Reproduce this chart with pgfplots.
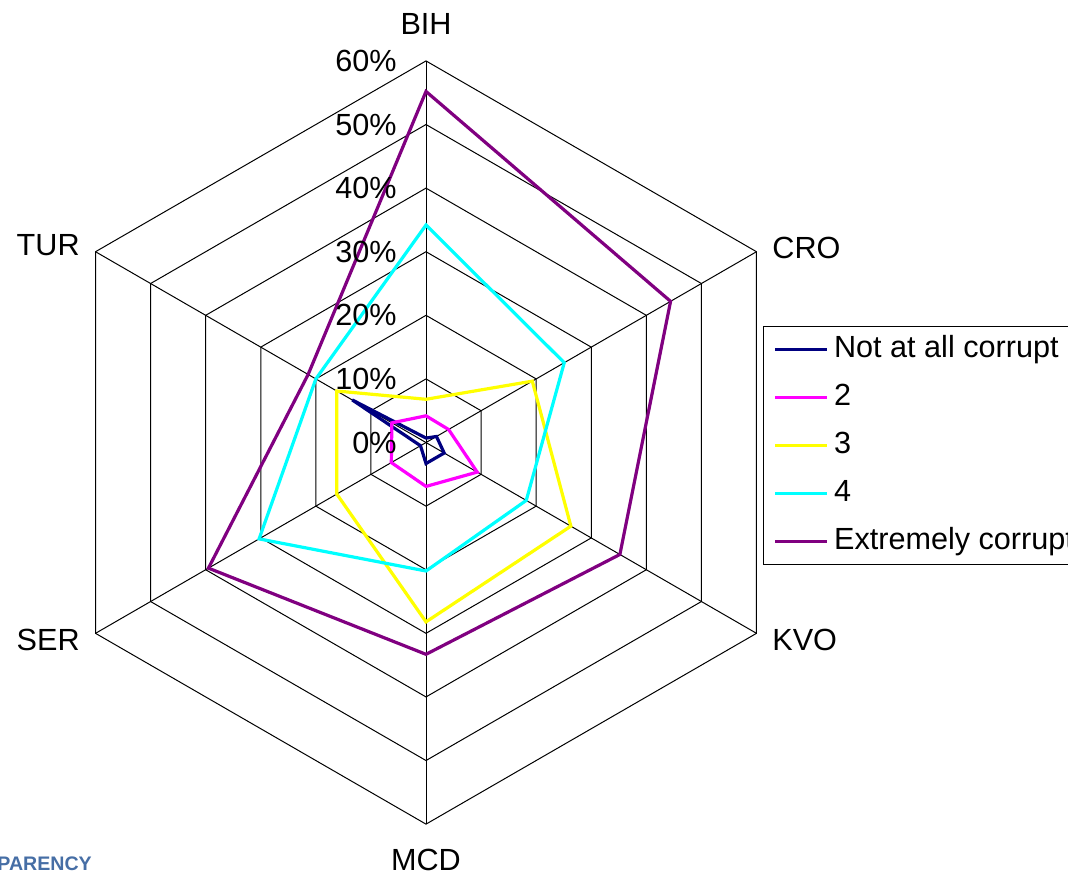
\documentclass[border=0pt]{standalone}
\usepackage{pgfplots}
\pgfplotsset{compat=1.18}
\usepackage{fontspec}
\setmainfont{Liberation Sans}
\definecolor{cNavy}{RGB}{0,0,128}
\definecolor{cMag}{RGB}{255,0,255}
\definecolor{cYel}{RGB}{255,255,0}
\definecolor{cCya}{RGB}{0,255,255}
\definecolor{cPur}{RGB}{128,0,128}
\definecolor{cLogo}{RGB}{70,110,165}
\newcommand{\lf}{\fontsize{15.3}{18}\selectfont}
\begin{document}
\begin{tikzpicture}
\begin{axis}[
  x=3.18pt, y=3.18pt,
  xmin=-67, xmax=101, ymin=-68.5, ymax=69.6,
  hide axis, clip=false,
  legend style={at={(axis cs:53.03,18.3)}, anchor=north west, draw=black, line width=0.5pt,
    font=\lf, inner xsep=5pt, inner ysep=4.5pt, column sep=2.75pt, row sep=10pt,
    nodes={inner sep=0pt, text height=11pt, text depth=3pt}},
  legend cell align=left,
  legend image code/.code={\draw[#1] (0pt,0pt) -- (25.8pt,0pt);},
]
% grid hexagons
\addplot[black, line width=0.5pt, data cs=polar, forget plot] coordinates {(90,10)(30,10)(-30,10)(-90,10)(-150,10)(150,10)} -- cycle;
\addplot[black, line width=0.5pt, data cs=polar, forget plot] coordinates {(90,20)(30,20)(-30,20)(-90,20)(-150,20)(150,20)} -- cycle;
\addplot[black, line width=0.5pt, data cs=polar, forget plot] coordinates {(90,30)(30,30)(-30,30)(-90,30)(-150,30)(150,30)} -- cycle;
\addplot[black, line width=0.5pt, data cs=polar, forget plot] coordinates {(90,40)(30,40)(-30,40)(-90,40)(-150,40)(150,40)} -- cycle;
\addplot[black, line width=0.5pt, data cs=polar, forget plot] coordinates {(90,50)(30,50)(-30,50)(-90,50)(-150,50)(150,50)} -- cycle;
\addplot[black, line width=0.5pt, data cs=polar, forget plot] coordinates {(90,60)(30,60)(-30,60)(-90,60)(-150,60)(150,60)} -- cycle;
% spokes
\addplot[black, line width=0.5pt, data cs=polar, forget plot] coordinates {(90,0)(90,60)};
\addplot[black, line width=0.5pt, data cs=polar, forget plot] coordinates {(30,0)(30,60)};
\addplot[black, line width=0.5pt, data cs=polar, forget plot] coordinates {(-30,0)(-30,60)};
\addplot[black, line width=0.5pt, data cs=polar, forget plot] coordinates {(-90,0)(-90,60)};
\addplot[black, line width=0.5pt, data cs=polar, forget plot] coordinates {(-150,0)(-150,60)};
\addplot[black, line width=0.5pt, data cs=polar, forget plot] coordinates {(150,0)(150,60)};
% series: BIH, CRO, KVO, MCD, SER, TUR
\addplot[cNavy, line width=1.6pt, data cs=polar] coordinates {(90,0.7)(30,1.9)(-30,3.3)(-90,3.3)(-150,1.0)(150,13.4)} -- cycle;
\addlegendentry{Not at all corrupt}
\addplot[cMag, line width=1.6pt, data cs=polar] coordinates {(90,4.2)(30,4.1)(-30,9.3)(-90,6.9)(-150,6.3)(150,6.2)} -- cycle;
\addlegendentry{2}
\addplot[cYel, line width=1.6pt, data cs=polar] coordinates {(90,6.8)(30,19.3)(-30,26.3)(-90,28.2)(-150,16.2)(150,16.2)} -- cycle;
\addlegendentry{3}
\addplot[cCya, line width=1.6pt, data cs=polar] coordinates {(90,34.2)(30,25.1)(-30,18.2)(-90,20.2)(-150,30.3)(150,20.0)} -- cycle;
\addlegendentry{4}
\addplot[cPur, line width=1.6pt, data cs=polar] coordinates {(90,55.2)(30,44.4)(-30,35.2)(-90,33.3)(-150,39.5)(150,21.4)} -- cycle;
\addlegendentry{Extremely corrupt}
% tick labels
\node[anchor=east, inner sep=0pt, font=\lf] at (axis cs:-4.56,0) {0\%};
\node[anchor=east, inner sep=0pt, font=\lf] at (axis cs:-4.56,10) {10\%};
\node[anchor=east, inner sep=0pt, font=\lf] at (axis cs:-4.56,20) {20\%};
\node[anchor=east, inner sep=0pt, font=\lf] at (axis cs:-4.56,30) {30\%};
\node[anchor=east, inner sep=0pt, font=\lf] at (axis cs:-4.56,40) {40\%};
\node[anchor=east, inner sep=0pt, font=\lf] at (axis cs:-4.56,50) {50\%};
\node[anchor=east, inner sep=0pt, font=\lf] at (axis cs:-4.56,60) {60\%};
% category labels
\node[anchor=center, inner sep=0pt, font=\lf] at (axis cs:0,65.8) {BIH};
\node[anchor=west, inner sep=0pt, font=\lf] at (axis cs:54.4,30.6) {CRO};
\node[anchor=west, inner sep=0pt, font=\lf] at (axis cs:54.4,-31.05) {KVO};
\node[anchor=center, inner sep=0pt, font=\lf] at (axis cs:0,-65.6) {MCD};
\node[anchor=east, inner sep=0pt, font=\lf] at (axis cs:-54.4,-31.05) {SER};
\node[anchor=east, inner sep=0pt, font=\lf] at (axis cs:-54.4,31.0) {TUR};
% logo fragment
\node[anchor=west, inner sep=0pt, text=cLogo, font=\bfseries\fontsize{9.8}{11}\selectfont] at (axis cs:-67.45,-66.3) {PARENCY};
\coordinate (bl) at (axis cs:-66.98,-68.47);
\coordinate (tr) at (axis cs:100.94,69.58);
\end{axis}
\pgfresetboundingbox
\path[use as bounding box] (bl) rectangle (tr);
\end{tikzpicture}
\end{document}
